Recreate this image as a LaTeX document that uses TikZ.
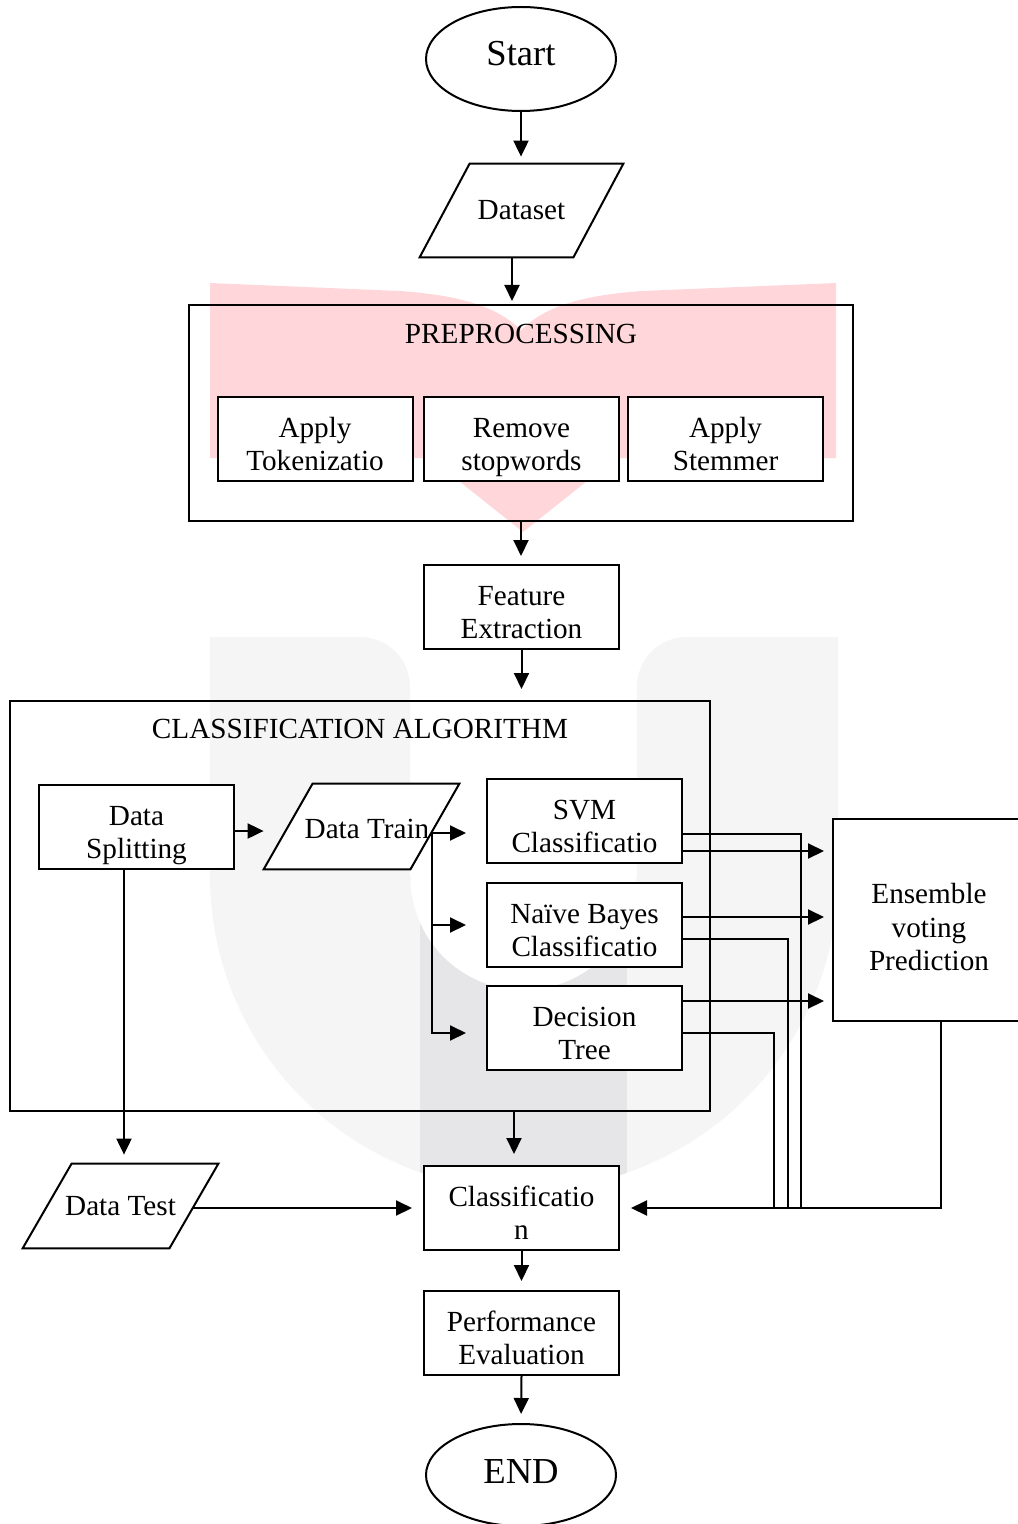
\documentclass[tikz,border=0pt]{standalone}
\usepackage{fontspec}
\setmainfont{Liberation Serif}
\usetikzlibrary{shapes.geometric,arrows.meta}
\newcommand\diagfont{\fontsize{14.6}{16.8}\selectfont}
\newcommand\termfont{\fontsize{18.3}{21}\selectfont}
\newcommand\topstr{\rule{0pt}{18.8pt}}
\newcommand\topstrx{\rule{0pt}{21pt}}
\newcommand\botstr{\rule[-4pt]{0pt}{4pt}}
\definecolor{wmpink}{RGB}{255,215,218}
\definecolor{wmlight}{RGB}{245,245,246}
\definecolor{wmdark}{RGB}{230,230,233}
\begin{document}
\begin{tikzpicture}[x=0.5pt,y=-0.5pt,
  ln/.style={line width=0.85pt},
  arr/.style={line width=1pt,-{Triangle[length=8pt,width=7.5pt]}},
  box/.style={draw,line width=1pt,fill=white,minimum width=97.5pt,minimum height=42pt,inner sep=0pt,align=center,font=\diagfont},
  grp/.style={draw,line width=1pt,inner sep=0pt},
  term/.style={ellipse,draw,line width=1pt,fill=white,inner sep=0pt,font=\termfont,minimum width=95pt},
  iobase/.style={inner sep=0pt},
  iopath/.style={draw,line width=1pt,fill=white},
  ttl/.style={font=\diagfont,inner sep=0pt}]
\useasboundingbox (0,0) rectangle (1017,1524);
% watermark
\fill[wmpink] (210,283) -- (400,291) .. controls (470,296) and (500,310) .. (521,330)
  .. controls (542,310) and (572,296) .. (642,291) -- (836,283) -- (836,458) -- (616,458)
  -- (523,532) -- (430,458) -- (210,458) -- cycle;
\begin{scope}
  \clip (200,876) rectangle (850,1300);
  \fill[wmlight] (524,876) circle[radius=157pt];
\end{scope}
\fill[wmlight] (210,880) -- (210,637) -- (360,637) .. controls (388,637) and (410,659) .. (410,687) -- (410,880) -- cycle;
\fill[wmlight] (838,880) -- (838,637) -- (687,637) .. controls (659,637) and (637,659) .. (637,687) -- (637,880) -- cycle;
\begin{scope}
  \clip (420,876) rectangle (627,1300);
  \clip (524,876) circle[radius=157pt];
  \fill[wmdark] (420,876) rectangle (627,1300);
\end{scope}
\fill[white] (523.5,877) circle[radius=56.5pt];
% groups
\node[grp,minimum width=332pt,minimum height=108pt] (pre) at (521,413) {};
\node[ttl] (pretitle) at (521,334) {PREPROCESSING};
\node[grp,minimum width=350pt,minimum height=205pt] (algo) at (360,906) {};
\node[ttl] (algotitle) at (360,729) {CLASSIFICATION ALGORITHM};
% terminals
\node[term,minimum height=52pt] (start) at (521,59) {Start\rule[-6pt]{0pt}{6pt}};
\node[term,minimum height=51pt] (end) at (521,1475) {END\rule[-4pt]{0pt}{4pt}};
% parallelograms
\node[iobase,minimum width=101.5pt,minimum height=46.5pt] (dataset) at (521.5,210.5) {};
\path[iopath] ([xshift=25pt]dataset.north west) -- (dataset.north east) -- ([xshift=-25pt]dataset.south east) -- (dataset.south west) -- cycle;
\node[ttl] (datasetlbl) at (dataset.center) {Dataset};
\node[iobase,minimum width=97.5pt,minimum height=42.5pt] (train) at (361.5,826.5) {};
\path[iopath] ([xshift=24.5pt]train.north west) -- (train.north east) -- ([xshift=-24.5pt]train.south east) -- (train.south west) -- cycle;
\node[ttl] (trainlbl) at ([xshift=2.75pt,yshift=-1pt]train.center) {Data Train};
\node[iobase,minimum width=97.5pt,minimum height=42pt] (test) at (120.5,1206) {};
\path[iopath] ([xshift=24.5pt]test.north west) -- (test.north east) -- ([xshift=-24.5pt]test.south east) -- (test.south west) -- cycle;
\node[ttl] (testlbl) at (test.center) {Data Test};
% boxes
\node[box] (tok) at (315,439) {\topstr Apply\\Tokenizatio\botstr};
\node[box] (stop) at (521.5,439) {\topstr Remove\\stopwords\botstr};
\node[box] (stem) at (725.5,439) {\topstr Apply\\Stemmer\botstr};
\node[box] (feat) at (521.5,607) {\topstr Feature\\Extraction\botstr};
\node[box] (split) at (136.5,827) {\topstr Data\\Splitting\botstr};
\node[box] (svm) at (584.5,821) {\topstr SVM\\Classificatio\botstr};
\node[box] (nb) at (584.5,925) {\topstr Naïve Bayes\\Classificatio\botstr};
\node[box] (dt) at (584.5,1028) {\topstr Decision\\Tree\botstr};
\node[box,minimum width=96pt,minimum height=101pt] (ens) at (929,920) {\topstrx Ensemble\\voting\\Prediction\botstr};
\node[box] (classif) at (521.5,1208) {\topstr Classificatio\\n\botstr};
\node[box] (perf) at (521.5,1333) {\topstr Performance\\Evaluation\botstr};
% connectors
\draw[arr,shorten >=3.5pt] (start.south) -- (start.south |- dataset.north);
\draw[arr,shorten >=1.5pt] ([xshift=-4.75pt]dataset.south) -- ([xshift=-4.75pt]dataset.south |- pre.north);
\draw[arr,shorten >=4pt] (pre.south) -- (pre.south |- feat.north);
\draw[arr,shorten >=5.5pt] (feat.south) -- (feat.south |- algo.north);
\draw[arr] ([yshift=-2pt]split.east) -- ([yshift=-2pt]split.east -| train.west);
\coordinate (br) at (432,833);
\draw[arr,shorten >=10pt] (br) -- (br -| svm.west);
\draw[arr,shorten >=10pt] (br) |- (nb.west);
\draw[arr,shorten >=10pt] (br) |- ([yshift=-2.5pt]dt.west);
\draw[arr,shorten >=4pt] ([yshift=-15pt]svm.east) -- ([yshift=-15pt]svm.east -| ens.west);
\draw[arr,shorten >=4pt] ([yshift=4pt]nb.east) -- ([yshift=4pt]nb.east -| ens.west);
\draw[arr,shorten >=4pt] ([yshift=13.5pt]dt.east) -- ([yshift=13.5pt]dt.east -| ens.west);
\coordinate (m1) at (801,1208);
\coordinate (m2) at (788,1208);
\coordinate (m3) at (774,1208);
\draw[ln] ([yshift=-6.5pt]svm.east) -| (m1);
\draw[ln] ([yshift=-7pt]nb.east) -| (m2);
\draw[ln] ([yshift=-2.5pt]dt.east) -| (m3);
\draw[arr,shorten >=5.5pt] ([xshift=6pt]ens.south) |- (classif.east);
\draw[arr,shorten >=5.5pt] ([xshift=-3.75pt]classif.north |- algo.south) -- ([xshift=-3.75pt]classif.north);
\draw[arr,shorten >=4.5pt] ([xshift=-6.25pt]split.south) -- ([xshift=-6.25pt]split.south |- test.north);
\draw[arr,shorten >=5.5pt] ([xshift=-13pt,yshift=-1pt]test.east) -- ([yshift=-1pt]test.east -| classif.west);
\draw[arr,shorten >=4.5pt] (classif.south) -- (perf.north);
\draw[arr,shorten >=4.5pt] (perf.south) -- (end.north);
\end{tikzpicture}
\end{document}
